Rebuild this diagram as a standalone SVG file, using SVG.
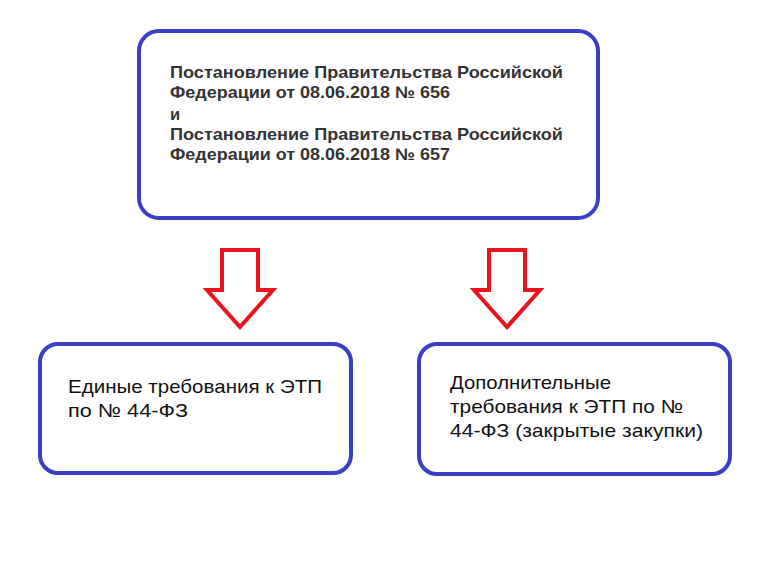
<svg xmlns="http://www.w3.org/2000/svg" width="778" height="570" viewBox="0 0 778 570">
<style>
.box{fill:#fff;stroke:#3b3fc6;stroke-width:4}
.arr{fill:#fff;stroke:#e8131c;stroke-width:4;stroke-linejoin:miter}
.b{font-family:"Liberation Sans",Arial,sans-serif;font-size:16.5px;font-weight:bold;fill:#333}
.n{font-family:"Liberation Sans",Arial,sans-serif;font-size:19px;fill:#111}
</style>
<rect width="778" height="570" fill="#fff"/>
<g id="top">
<rect class="box" x="139" y="31" width="459" height="187" rx="20"/>
<text class="b" x="170" y="78" textLength="393" lengthAdjust="spacingAndGlyphs">Постановление Правительства Российской</text>
<text class="b" x="170" y="98" textLength="280" lengthAdjust="spacingAndGlyphs">Федерации от 08.06.2018 № 656</text>
<text class="b" x="170" y="120" font-weight="normal">и</text>
<text class="b" x="170" y="140" textLength="393" lengthAdjust="spacingAndGlyphs">Постановление Правительства Российской</text>
<text class="b" x="170" y="160" textLength="280" lengthAdjust="spacingAndGlyphs">Федерации от 08.06.2018 № 657</text>
</g>
<g id="connectors">
<polygon class="arr" points="222,250 258,250 258,290 273,290 240,327 207,290 222,290"/>
<polygon class="arr" points="489,250 525,250 525,290 540,290 507,327 474,290 489,290"/>
</g>
<g id="left">
<rect class="box" x="40" y="344" width="311" height="129" rx="18"/>
<text class="n" x="68" y="393" textLength="254" lengthAdjust="spacingAndGlyphs">Единые требования к ЭТП</text>
<text class="n" x="68" y="417" textLength="120" lengthAdjust="spacingAndGlyphs">по № 44-ФЗ</text>
</g>
<g id="right">
<rect class="box" x="419" y="344" width="311" height="130" rx="18"/>
<text class="n" x="450" y="389" textLength="161" lengthAdjust="spacingAndGlyphs">Дополнительные</text>
<text class="n" x="450" y="413" textLength="233" lengthAdjust="spacingAndGlyphs">требования к ЭТП по №</text>
<text class="n" x="450" y="437" textLength="253" lengthAdjust="spacingAndGlyphs">44-ФЗ (закрытые закупки)</text>
</g>
</svg>
